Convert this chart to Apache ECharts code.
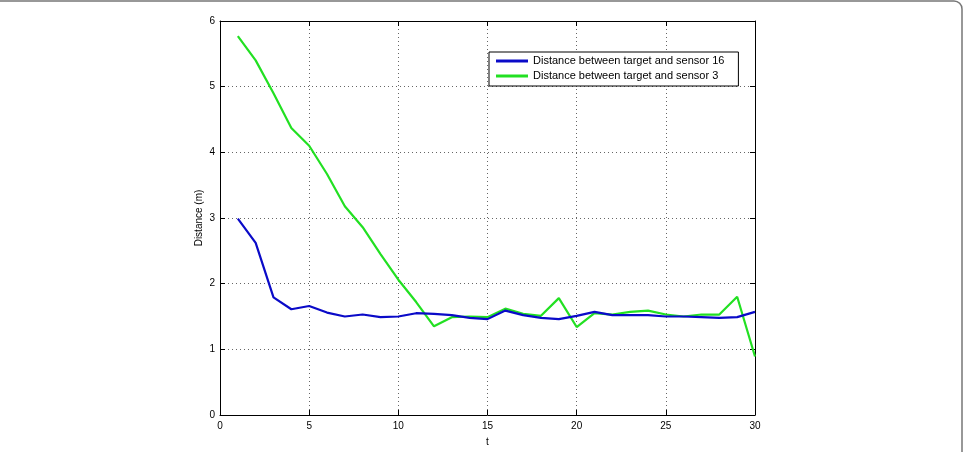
<!DOCTYPE html>
<html>
<head>
<meta charset="UTF-8">
<title>Distance</title>
<style>
  html, body { margin: 0; padding: 0; background: #fff; }
  #main { width: 964px; height: 452px; }
</style>
</head>
<body>
<div id="main"></div>
<script src="https://cdn.jsdelivr.net/npm/echarts@6/dist/echarts.min.js"></script>
<script>
// time steps
var t = [1, 2, 3, 4, 5, 6, 7, 8, 9, 10, 11, 12, 13, 14, 15,
         16, 17, 18, 19, 20, 21, 22, 23, 24, 25, 26, 27, 28, 29, 30];

// distance to sensor 16 (blue)
var sensor16 = [2.99, 2.62, 1.79, 1.61, 1.66, 1.56, 1.50, 1.53, 1.49, 1.50,
                1.55, 1.54, 1.52, 1.48, 1.46, 1.59, 1.52, 1.48, 1.46, 1.51,
                1.57, 1.52, 1.52, 1.52, 1.50, 1.50, 1.49, 1.48, 1.49, 1.57];

// distance to sensor 3 (green)
var sensor3 = [5.77, 5.40, 4.90, 4.37, 4.10, 3.67, 3.18, 2.86, 2.45, 2.06,
               1.72, 1.35, 1.49, 1.50, 1.49, 1.62, 1.54, 1.51, 1.78, 1.34,
               1.55, 1.53, 1.57, 1.59, 1.53, 1.50, 1.53, 1.53, 1.80, 0.89];

var names = ['Distance between target and sensor 16', 'Distance between target and sensor 3'];

function pairs(ys) {
    return ys.map(function (y, i) { return [t[i], y]; });
}

var chart = echarts.init(document.getElementById('main'));

var font = 'Liberation Sans, Arial, sans-serif';

function axisCommon(extra) {
    var a = {
        type: 'value',
        axisLine: { show: true, onZero: false, lineStyle: { color: '#000', width: 1 } },
        axisTick: { show: true, inside: true, length: 5, lineStyle: { color: '#000' } },
        axisLabel: { color: '#000', fontSize: 10, fontFamily: font },
        splitLine: { show: false }
    };
    for (var k in extra) a[k] = extra[k];
    return a;
}

var option = {
    animation: false,
    backgroundColor: '#fff',
    textStyle: { fontFamily: font },
    graphic: [{
        type: 'rect',
        shape: { x: -10, y: 1, width: 972, height: 470, r: 8 },
        style: { fill: 'none', stroke: '#777', lineWidth: 1.5 },
        silent: true
    }],
    grid: { left: 220, right: 209, top: 21, bottom: 33 },
    legend: {
        left: 489, top: 52,
        orient: 'vertical',
        data: names,
        icon: 'rect',
        itemWidth: 32, itemHeight: 3,
        itemGap: 3,
        padding: [3, 14, 4, 7],
        borderColor: '#000', borderWidth: 1,
        backgroundColor: '#fff',
        textStyle: { fontSize: 11, color: '#000', fontFamily: font, lineHeight: 12 }
    },
    xAxis: [
        axisCommon({
            min: 0, max: 30, interval: 5,
            name: 't', nameLocation: 'middle', nameGap: 22,
            nameMoveOverlap: false,
            nameTextStyle: { fontSize: 10, color: '#000', fontFamily: font },
            axisLabel: { color: '#000', fontSize: 10, fontFamily: font, margin: 6 },
            splitLine: { show: true, lineStyle: { color: '#666', type: [1, 3], width: 1 } }
        }),
        axisCommon({ min: 0, max: 30, interval: 5, position: 'top', axisLabel: { show: false } })
    ],
    yAxis: [
        axisCommon({
            min: 0, max: 6, interval: 1,
            name: 'Distance (m)', nameLocation: 'middle', nameGap: 16,
            nameMoveOverlap: false,
            nameTextStyle: { fontSize: 10, color: '#000', fontFamily: font },
            axisLabel: { color: '#000', fontSize: 10, fontFamily: font, margin: 5 },
            splitLine: { show: true, lineStyle: { color: '#666', type: [1, 3], width: 1 } }
        }),
        axisCommon({ min: 0, max: 6, interval: 1, position: 'right', axisLabel: { show: false } })
    ],
    series: [{
        name: names[0],
        type: 'line',
        data: pairs(sensor16),
        showSymbol: false,
        symbol: 'none',
        itemStyle: { color: '#0a0ac8' },
        lineStyle: { color: '#0a0ac8', width: 2.2 },
        z: 3
    }, {
        name: names[1],
        type: 'line',
        data: pairs(sensor3),
        showSymbol: false,
        symbol: 'none',
        itemStyle: { color: '#22e022' },
        lineStyle: { color: '#22e022', width: 2.2 },
        z: 2
    }]
};

chart.setOption(option);
</script>
</body>
</html>
